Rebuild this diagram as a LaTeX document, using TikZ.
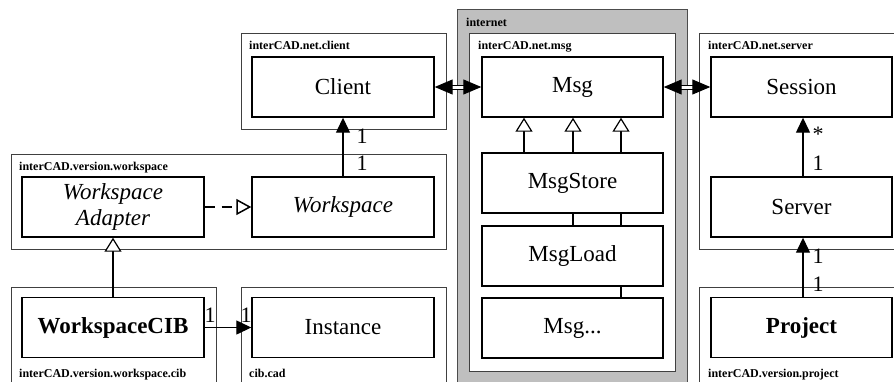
\documentclass[tikz,border=0pt]{standalone}
\usepackage{fontspec}
\setmainfont{Liberation Serif}
\usetikzlibrary{arrows.meta}
\begin{document}
\begin{tikzpicture}[x=1pt,y=-1pt,
  pkg/.style={draw=black!75, line width=0.9pt, fill=white},
  cls/.style={draw=black, line width=1.4pt, fill=white, font=\rmfamily\fontsize{23}{24}\selectfont,
    minimum width=182pt, minimum height=60pt, inner sep=0pt, align=center},
  plabel/.style={font=\rmfamily\bfseries\fontsize{12}{13}\selectfont, anchor=base west, inner sep=0pt},
  mult/.style={font=\rmfamily\fontsize{22}{23}\selectfont, inner sep=0pt},
  assoc/.style={line width=1.3pt, -{Triangle[length=15pt,width=14pt]}},
  gen/.style={line width=1.2pt, -{Triangle[open,length=14pt,width=17pt,fill=white]}},
  real/.style={line width=1.5pt, dash pattern=on 10pt off 7pt, -{Triangle[open,length=15pt,width=16pt,fill=white]}},
  dbl/.style={double, double distance=3pt, line width=1pt,
    {Triangle[length=18pt,width=15pt]}-{Triangle[length=18pt,width=15pt]}}
]
\useasboundingbox (0,0) rectangle (894,381);
\clip (0,0) rectangle (894,381);
% packages
\filldraw[pkg] (241,33) rectangle (446,129);
\node[plabel] (lclient) at (249,49) {interCAD.net.client};
\filldraw[pkg] (11,154) rectangle (446,249);
\node[plabel] (lws) at (19,170) {interCAD.version.workspace};
\filldraw[pkg] (11,287) rectangle (216,400);
\node[plabel] (lcib) at (19,377) {interCAD.version.workspace.cib};
\filldraw[pkg] (241,287) rectangle (446,400);
\node[plabel] (lcad) at (249,377) {cib.cad};
\filldraw[draw=black!70, line width=0.9pt, fill=black!25] (457,9) rectangle (687,400);
\node[plabel] (linet) at (466,26) {internet};
\filldraw[pkg] (469,33) rectangle (675,371);
\node[plabel] (lmsg) at (478,49) {interCAD.net.msg};
\filldraw[pkg] (699,33) rectangle (910,249);
\node[plabel] (lsrv) at (708,49) {interCAD.net.server};
\filldraw[pkg] (699,287) rectangle (910,400);
\node[plabel] (lprj) at (708,377) {interCAD.version.project};
% classes
\node[cls] (Client) at (343,87) {Client};
\node[cls, font=\rmfamily\itshape\fontsize{23}{26}\selectfont] (Adapter) at (113,207) {Workspace\\Adapter};
\node[cls, font=\rmfamily\itshape\fontsize{23}{24}\selectfont] (Workspace) at (343,207) {Workspace};
\node[cls, font=\rmfamily\bfseries\fontsize{23}{24}\selectfont] (CIB) at (113,327.5) {WorkspaceCIB};
\node[cls] (Instance) at (343,327.5) {Instance};
\node[cls, minimum width=181pt] (Msg) at (572.5,87) {Msg};
\node[cls, minimum width=181pt] (MsgStore) at (572.5,183) {MsgStore};
\node[cls, minimum width=181pt] (MsgLoad) at (572.5,256) {MsgLoad};
\node[cls, minimum width=181pt] (MsgDots) at (572.5,328) {Msg...};
\node[cls, minimum width=181pt] (Session) at (801.5,87) {Session};
\node[cls, minimum width=181pt] (Server) at (801.5,207) {Server};
\node[cls, minimum width=181pt, font=\rmfamily\bfseries\fontsize{23}{24}\selectfont] (Project) at (801.5,327.5) {Project};
% connectors
\draw[dbl] (Client.east) -- (Msg.west);
\draw[dbl] (Msg.east) -- (Session.west);
\draw[assoc] (Workspace.north) -- (Client.south);
\node[mult] (m1) at (362,136) {1};
\node[mult] (m2) at (362,163) {1};
\draw[real] (Adapter.east) -- (Workspace.west);
\draw[gen] (CIB.north) -- (Adapter.south);
\draw[assoc] (CIB.east) -- (Instance.west);
\node[mult] (m3) at (210,315) {1};
\node[mult] (m4) at (246,315) {1};
\draw[gen] ([xshift=-48.5pt]MsgStore.north) -- ([xshift=-48.5pt]Msg.south);
\draw[gen] ([xshift=0.5pt]MsgStore.north) -- ([xshift=0.5pt]Msg.south);
\draw[gen] ([xshift=48.5pt]MsgStore.north) -- ([xshift=48.5pt]Msg.south);
\draw[line width=1.2pt] ([xshift=0.5pt]MsgLoad.north) -- ([xshift=0.5pt]MsgStore.south);
\draw[line width=1.2pt] ([xshift=48.5pt]MsgLoad.north) -- ([xshift=48.5pt]MsgStore.south);
\draw[line width=1.2pt] ([xshift=48.5pt]MsgDots.north) -- ([xshift=48.5pt]MsgLoad.south);
\draw[assoc] ([xshift=1.5pt]Server.north) -- ([xshift=1.5pt]Session.south);
\node[mult] (m5) at (818,134) {*};
\node[mult] (m6) at (818,163) {1};
\draw[assoc] ([xshift=1.5pt]Project.north) -- ([xshift=1.5pt]Server.south);
\node[mult] (m7) at (818,256) {1};
\node[mult] (m8) at (818,284) {1};
\end{tikzpicture}
\end{document}
